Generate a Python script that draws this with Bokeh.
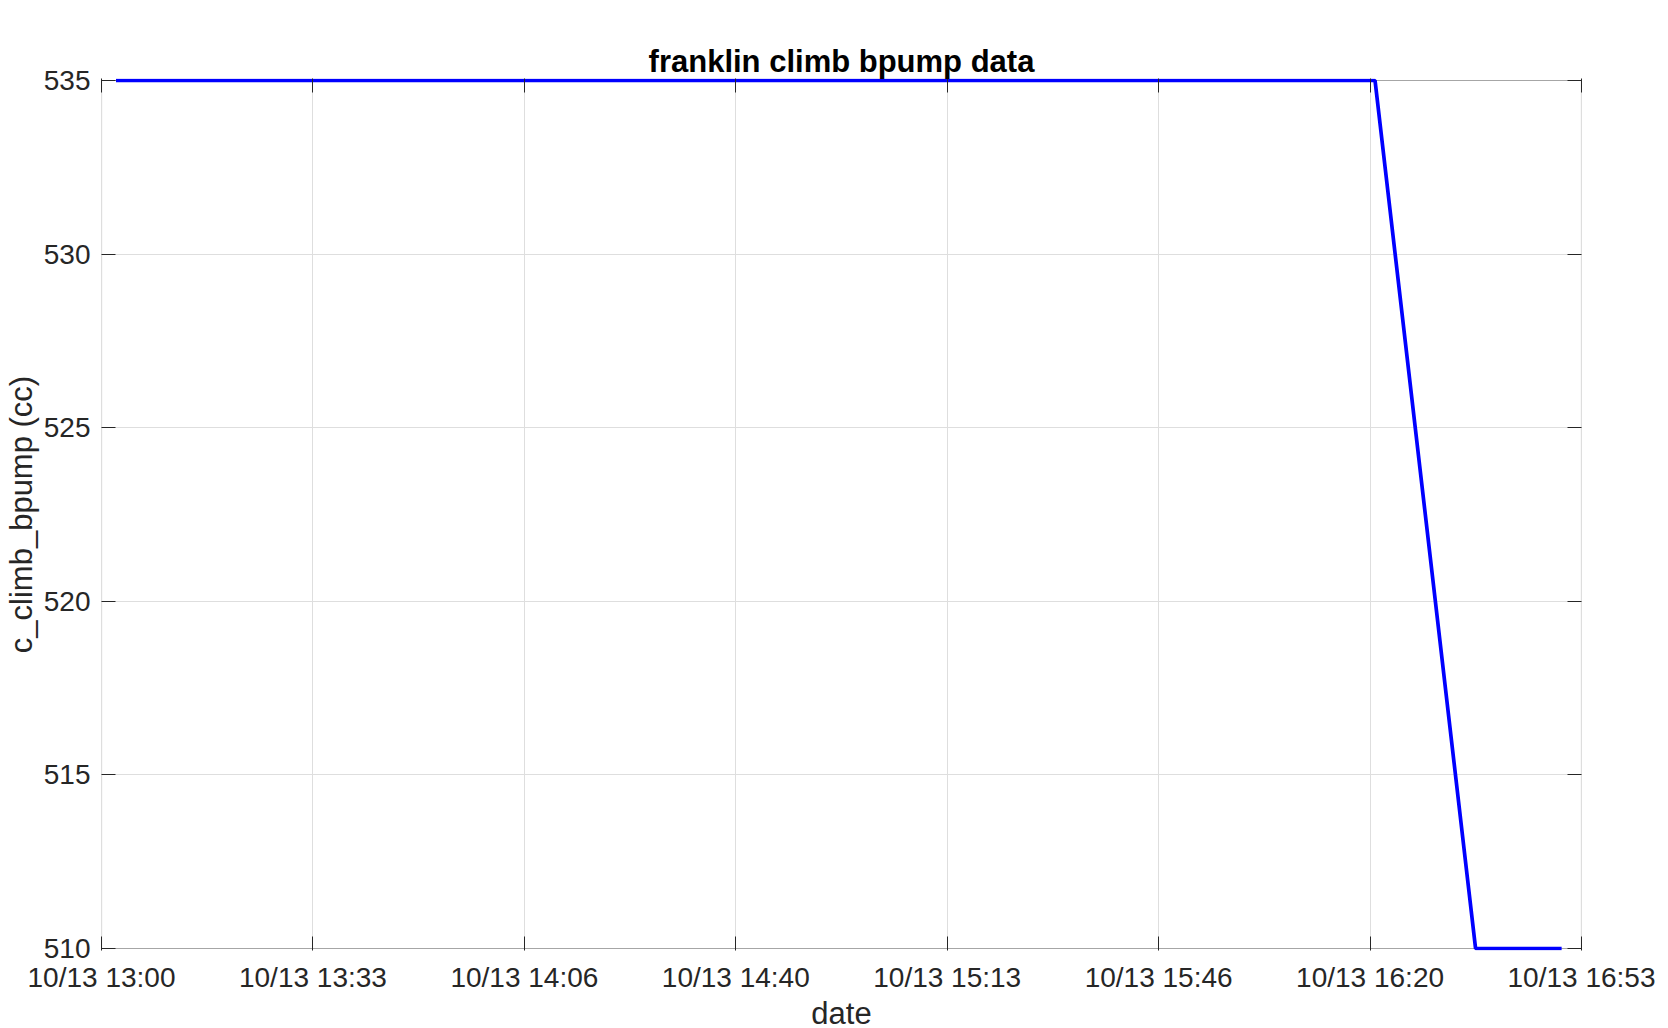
import pandas as pd
from bokeh.plotting import figure
from bokeh.models import (FixedTicker, DatetimeTickFormatter, LinearAxis, DatetimeAxis,
                          Range1d, BoxAnnotation)
from bokeh.embed import file_html
from bokeh.resources import INLINE

# ---- data ----
times = ["2020-10-13 13:02:17", "2020-10-13 16:20:47", "2020-10-13 16:36:38", "2020-10-13 16:50:12"]
values = [535, 535, 510, 510]
x_tick_times = ["2020-10-13 13:00:00", "2020-10-13 13:33:20", "2020-10-13 14:06:40",
                "2020-10-13 14:40:00", "2020-10-13 15:13:20", "2020-10-13 15:46:40",
                "2020-10-13 16:20:00", "2020-10-13 16:53:20"]
y_ticks = [510, 515, 520, 525, 530, 535]
x_start, x_end = "2020-10-13 13:00:00", "2020-10-13 16:53:20"
y_start, y_end = 510, 535
title_text = "franklin climb bpump data"
x_label = "date"
y_label = "c_climb_bpump (cc)"

def ms(s):
    return pd.Timestamp(s).value / 1e6

FONT = "Liberation Sans"
TXT = "#262626"

x = pd.to_datetime(times)
xticks = [ms(t) for t in x_tick_times]

# ---- layout (pixels) ----
W, H = 1668, 1028
LEFT, TOP = 101, 80
PLOT_W, PLOT_H = 1480, 868
PAD = 2
pad = PAD * (y_end - y_start) / PLOT_H

p = figure(width=W, height=H, output_backend="svg", toolbar_location=None,
           x_axis_type="datetime",
           x_range=Range1d(ms(x_start), ms(x_end)),
           y_range=Range1d(y_start - pad, y_end + pad),
           frame_width=PLOT_W, frame_height=PLOT_H + 2 * PAD,
           min_border_left=LEFT, min_border_top=TOP - PAD,
           min_border_right=W - LEFT - PLOT_W, min_border_bottom=H - TOP - PLOT_H - PAD)
p.background_fill_color = "white"
p.border_fill_color = "white"
p.outline_line_color = None

p.title.text = title_text
p.title.text_font = FONT
p.title.text_font_size = "31px"
p.title.text_font_style = "bold"
p.title.text_color = "black"
p.title.align = "center"
p.title.standoff = 0

fmt = "%m/%d %H:%M"
dt_fmt = DatetimeTickFormatter(microseconds=fmt, milliseconds=fmt, seconds=fmt, minsec=fmt,
                               minutes=fmt, hourmin=fmt, hours=fmt, days=fmt, months=fmt, years=fmt)

xa = p.xaxis[0]
xa.ticker = FixedTicker(ticks=xticks)
xa.formatter = dt_fmt
xa.axis_label = x_label
ya = p.yaxis[0]
ya.ticker = FixedTicker(ticks=y_ticks)
ya.axis_label = y_label

for ax in (xa, ya):
    ax.axis_line_color = None
    ax.major_tick_in = 14
    ax.major_tick_out = 0
    ax.major_tick_line_color = TXT
    ax.minor_tick_line_color = None
    ax.major_label_text_font = FONT
    ax.major_label_text_font_size = "28px"
    ax.major_label_text_color = TXT
    ax.axis_label_text_font = FONT
    ax.axis_label_text_font_size = "31px"
    ax.axis_label_text_font_style = "normal"
    ax.axis_label_text_color = TXT
xa.major_label_standoff = 11
xa.axis_label_standoff = 0
ya.major_label_standoff = 11
ya.axis_label_standoff = 2

# mirrored ticks (box style)
ra = LinearAxis(ticker=FixedTicker(ticks=y_ticks))
ta = DatetimeAxis(ticker=FixedTicker(ticks=xticks))
for ax in (ra, ta):
    ax.axis_line_color = None
    ax.major_tick_in = 14
    ax.major_tick_out = 0
    ax.major_tick_line_color = TXT
    ax.minor_tick_line_color = None
    ax.major_label_text_alpha = 0
    ax.major_label_text_font_size = "1px"
    ax.major_label_standoff = 0
ta.major_label_standoff = 8
p.add_layout(ra, "right")
p.add_layout(ta, "above")

p.xgrid.ticker = FixedTicker(ticks=xticks)
p.ygrid.ticker = FixedTicker(ticks=y_ticks)
for g in (p.xgrid, p.ygrid):
    g.grid_line_color = "#dedede"
    g.grid_line_width = 1

box = BoxAnnotation(left=ms(x_start), right=ms(x_end), bottom=y_start, top=y_end,
                    fill_color=None, line_color=TXT, line_width=1.2, level="underlay")
p.add_layout(box)

p.line(x, values, line_color="#0000ff", line_width=3.7)

open("out.html", "w").write(file_html(p, INLINE))
